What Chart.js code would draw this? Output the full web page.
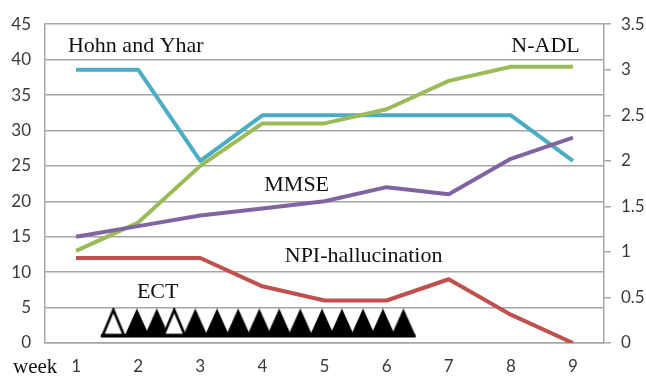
<!DOCTYPE html>
<html>
<head>
<meta charset="utf-8">
<script src="https://cdn.jsdelivr.net/npm/chart.js@4"></script>
<style>
  html, body { margin: 0; padding: 0; background: #ffffff; }
  #wrap { width: 646px; height: 377px; }
</style>
</head>
<body>
<div id="wrap"><canvas id="c" width="646" height="377"></canvas></div>
<script>
// ---- data ----
const weeks = [1, 2, 3, 4, 5, 6, 7, 8, 9];
const hohnYahr = [3, 3, 2, 2.5, 2.5, 2.5, 2.5, 2.5, 2];        // right axis
const nADL = [13, 17, 25, 31, 31, 33, 37, 39, 39];             // left axis
const mmse = [15, 16.5, 18, 19, 20, 22, 21, 26, 29];           // left axis
const npiHallucination = [12, 12, 12, 8, 6, 6, 9, 4, 0];       // left axis
const ectFilledSessions = [1.98, 2.3, 2.92, 3.27, 3.61, 3.95, 4.27, 4.61, 4.96, 5.28, 5.62, 5.94, 6.27];
const ectOpenSessions = [1.6, 2.58];
const leftTicks = [0, 5, 10, 15, 20, 25, 30, 35, 40, 45];
const rightTicks = [0, 0.5, 1, 1.5, 2, 2.5, 3, 3.5];
const seriesLabels = ['Hohn and Yhar', 'N-ADL', 'MMSE', 'NPI-hallucination', 'ECT'];

// ---- styles ----
const ECT_Y = 2.83;
const ECT_BAND_Y = 1.04;
function makeTri(open) {
  const cv = document.createElement('canvas');
  cv.width = 26; cv.height = 29;
  const g = cv.getContext('2d');
  g.beginPath();
  if (open) {
    g.moveTo(2.5, 26.5); g.lineTo(13, 1.5); g.lineTo(23.5, 26.5); g.closePath();
    g.fillStyle = '#ffffff'; g.fill();
    g.lineWidth = 2.6; g.strokeStyle = '#000000'; g.lineJoin = 'miter'; g.stroke();
  } else {
    g.moveTo(0, 29); g.lineTo(13, 0); g.lineTo(26, 29); g.closePath();
    g.fillStyle = '#000000'; g.fill();
  }
  return cv;
}
const triOpen = makeTri(true), triFilled = makeTri(false);

const pts = (arr) => arr.map((v, i) => ({ x: weeks[i], y: v }));
const lineDs = (label, data, color, axis) => ({
  label, data: pts(data), borderColor: color, backgroundColor: color,
  borderWidth: 4, pointRadius: 0, yAxisID: axis, tension: 0,
  borderCapStyle: 'butt', borderJoinStyle: 'round'
});

const textLabels = [
  { text: seriesLabels[0], x: 0.87, y: 41.1, align: 'left' },
  { text: seriesLabels[1], x: 9.11, y: 41.1, align: 'right' },
  { text: seriesLabels[2], x: 4.03, y: 21.5, align: 'left' },
  { text: seriesLabels[3], x: 4.36, y: 11.46, align: 'left' },
  { text: seriesLabels[4], x: 1.98, y: 6.35, align: 'left' }
];

const annotPlugin = {
  id: 'annot',
  afterDatasetsDraw(chart) {
    const ctx = chart.ctx, xs = chart.scales.x, ys = chart.scales.y;
    ctx.save();
    ctx.fillStyle = '#111111';
    ctx.font = '22px "Liberation Serif", "Times New Roman", serif';
    ctx.textBaseline = 'alphabetic';
    textLabels.forEach(l => {
      ctx.textAlign = l.align;
      ctx.fillText(l.text, xs.getPixelForValue(l.x), ys.getPixelForValue(l.y));
    });
    ctx.textAlign = 'left';
    ctx.font = '21px "Liberation Serif", "Times New Roman", serif';
    ctx.fillText('week', 13, xs.top + 30);
    ctx.restore();
  }
};

const GRID = '#a6a6a6';
const TICKFONT = { family: 'Lato, "Open Sans", sans-serif', size: 17 };
const TICKCOLOR = '#3a3a3a';

new Chart(document.getElementById('c'), {
  type: 'line',
  data: {
    datasets: [
      {
        label: 'ECT (open)', data: ectOpenSessions.map(w => ({ x: w, y: ECT_Y })),
        showLine: false, yAxisID: 'y', order: 0,
        pointRadius: 11, pointHoverRadius: 11, pointStyle: triOpen
      },
      {
        label: 'ECT', data: ectFilledSessions.map(w => ({ x: w, y: ECT_Y })),
        showLine: false, yAxisID: 'y', order: 1,
        pointRadius: 11, pointHoverRadius: 11, pointStyle: triFilled
      },
      {
        label: 'ECT base', data: [{ x: 1.4, y: ECT_BAND_Y }, { x: 6.46, y: ECT_BAND_Y }],
        borderColor: '#000000', borderWidth: 3.5, pointRadius: 0, yAxisID: 'y', order: 2
      },
      Object.assign(lineDs(seriesLabels[0], hohnYahr, '#4BACC6', 'y1'), { order: 6 }),
      Object.assign(lineDs(seriesLabels[1], nADL, '#9BBB59', 'y'), { order: 5 }),
      Object.assign(lineDs(seriesLabels[2], mmse, '#8064A2', 'y'), { order: 4 }),
      Object.assign(lineDs(seriesLabels[3], npiHallucination, '#C0504D', 'y'), { order: 3 })
    ]
  },
  options: {
    responsive: false,
    animation: false,
    events: [],
    layout: { padding: { top: 17, left: 0, right: 0, bottom: 0 } },
    plugins: { legend: { display: false }, tooltip: { enabled: false } },
    scales: {
      x: {
        type: 'linear', min: 0.5, max: 9.5,
        afterBuildTicks: (s) => { s.ticks = weeks.map(v => ({ value: v })); },
        afterFit: (s) => { s.height = 34; },
        grid: { display: false, drawTicks: false },
        border: { display: true, color: GRID, width: 1.5 },
        ticks: { font: TICKFONT, color: TICKCOLOR, padding: 13, maxRotation: 0, autoSkip: false }
      },
      y: {
        position: 'left', min: 0, max: 45,
        afterBuildTicks: (s) => { s.ticks = leftTicks.map(v => ({ value: v })); },
        afterFit: (s) => { s.width = 45; },
        grid: { color: GRID, lineWidth: 1.5, drawTicks: false },
        border: { display: true, color: GRID, width: 1.5 },
        ticks: { font: TICKFONT, color: TICKCOLOR, padding: 14, callback: (v) => String(v) }
      },
      y1: {
        position: 'right', min: 0, max: 3.5,
        afterBuildTicks: (s) => { s.ticks = rightTicks.map(v => ({ value: v })); },
        afterFit: (s) => { s.width = 42; },
        grid: { drawOnChartArea: false, color: GRID, lineWidth: 1.5, tickLength: 7 },
        border: { display: true, color: GRID, width: 1.5 },
        ticks: { font: TICKFONT, color: TICKCOLOR, padding: 10, callback: (v) => String(v) }
      }
    }
  },
  plugins: [annotPlugin]
});
</script>
</body>
</html>
